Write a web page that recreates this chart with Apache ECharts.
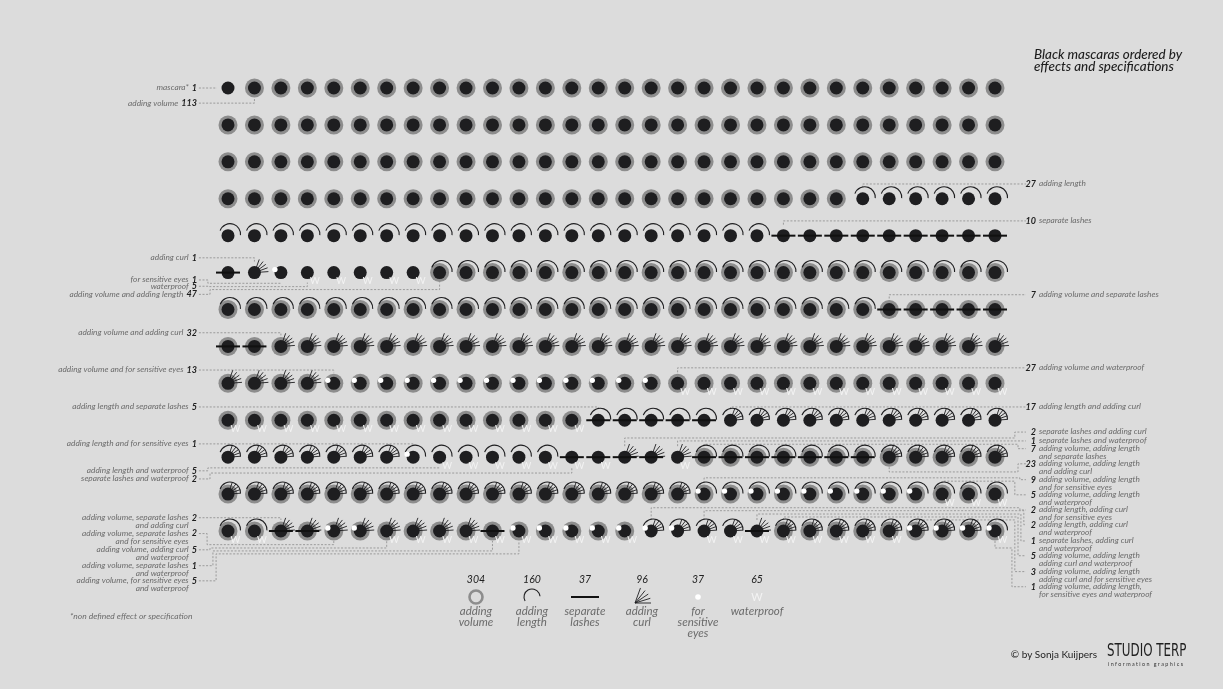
<!DOCTYPE html>
<html><head><meta charset="utf-8">
<script src="https://cdn.jsdelivr.net/npm/echarts@6/dist/echarts.min.js"></script>
<style>html,body{margin:0;padding:0;background:#dcdcdc}#c{width:1223px;height:689px}</style>
</head><body><div id="c"></div>
<script>
// ---------- data ----------
// effect codes: V adding volume, L adding length, S separate lashes, C adding curl, E for sensitive eyes, W waterproof
const groupCodes  = ['', 'V','L','S','C','E','W','VL','VS','VC','VE','VW','LS','LC','LE','LW','SW','SC','CW','VLS','VLC','VLE','VLW','VSC','VCE','VCW','VSW','VEW','LCE','LCW','SCW','VLCW','VLCE','VLEW'];
const groupCounts = [1,113,27,10,1,1,5,47,7,32,13,27,5,18,1,5,2,2,1,7,23,9,5,2,2,4,1,5,2,2,1,5,3,1];

const leftLabels = ['mascara*','adding volume','adding curl','for sensitive eyes','waterproof','adding volume and adding length','adding volume and adding curl','adding volume and for sensitive eyes','adding length and separate lashes','adding length and for sensitive eyes','adding length and waterproof','separate lashes and waterproof','adding volume, separate lashes\nand adding curl','adding volume, separate lashes\nand for sensitive eyes','adding volume, adding curl\nand waterproof','adding volume, separate lashes\nand waterproof','adding volume, for sensitive eyes\nand waterproof'];
const leftCounts = [1,113,1,1,5,47,32,13,5,1,5,2,2,2,5,1,5];
const leftGroups = [0,1,4,5,6,7,9,10,12,14,15,16,23,24,25,26,27];

const rightLabels = ['adding length','separate lashes','adding volume and separate lashes','adding volume and waterproof','adding length and adding curl','separate lashes and adding curl','separate lashes and waterproof','adding volume, adding length\nand separate lashes','adding volume, adding length\nand adding curl','adding volume, adding length\nand for sensitive eyes','adding volume, adding length\nand waterproof','adding length, adding curl\nand for sensitive eyes','adding length, adding curl\nand waterproof','separate lashes, adding curl\nand waterproof','adding volume, adding length\nadding curl and waterproof','adding volume, adding length\nadding curl and for sensitive eyes','adding volume, adding length,\nfor sensitive eyes and waterproof'];
const rightCounts = [27,10,7,27,17,2,1,7,23,9,5,2,2,1,5,3,1];
const rightGroups = [2,3,8,11,13,17,18,19,20,21,22,28,29,30,31,32,33];

const legendCodes  = ['V','L','S','C','E','W'];
const legendNames  = ['adding\nvolume','adding\nlength','separate\nlashes','adding\ncurl','for\nsensitive\neyes','waterproof'];
const legendTotals = [304,160,37,96,37,65];

// ---------- layout (annotation routing, in grid units: [labelRow, routeRow, bendCol]) ----------
const COLS = 30;
const leftLayout = [[0,null,null],[0.41,null,null],[4.6,null,null],[5.2,5.29,-0.76],[5.37,5.38,-0.72],[5.59,5.46,-0.68],
  [6.63,null,null],[7.64,null,null],[8.64,null,null],[9.64,null,null],[10.37,10.29,-0.76],[10.59,10.43,-0.68],
  [11.64,null,null],[12.07,12.37,-0.79],[12.51,12.46,-0.68],[12.94,12.54,-0.57],[13.35,12.62,-0.45]];
const rightLayout = [[2.6,null,null],[3.6,null,null],[5.6,null,null],[7.58,null,null],[8.64,null,null],
  [9.32,9.48,29.75],[9.56,null,null],[9.77,9.65,29.87],[10.18,10.4,29.87],[10.61,10.56,29.94],[11.02,10.65,29.75],
  [11.43,11.37,29.94],[11.83,11.45,30.09],[12.27,11.54,29.98],[12.67,11.62,29.87],[13.1,11.7,29.75],[13.51,12.46,29.64]];

// ---------- build items from groups ----------
const items = [];
const groupStart = [];
let k = 0;
groupCounts.forEach((n, g) => { groupStart.push(k); for (let i = 0; i < n; i++) { items.push([k % COLS, Math.floor(k / COLS), g]); k++; } });

const anns = [];
leftLabels.forEach((t, i) => anns.push({side:'L', text:t, num:leftCounts[i], g:leftGroups[i], lay:leftLayout[i]}));
rightLabels.forEach((t, i) => anns.push({side:'R', text:t, num:rightCounts[i], g:rightGroups[i], lay:rightLayout[i]}));

const DEG = Math.PI / 180;
const INK = '#1e1e20';
const HALO = '#8d8d8d';
const TXT_FONT = 'italic 8.3px Lato';
const NUM_FONT = 'italic bold 9px Lato';
const mctx = document.createElement('canvas').getContext('2d');
function tw(s, f) { mctx.font = f; return mctx.measureText(s).width; }

function glyph(code, x, y) {
  const has = c => code.indexOf(c) >= 0;
  const ch = [];
  if (has('V')) ch.push({type:'circle', shape:{cx:x, cy:y, r:9.5}, style:{fill:HALO}});
  const ox = 2, oy = -1.5, R = 10.5;
  if (has('L')) ch.push({type:'arc', shape:{cx:x+ox, cy:y+oy, r:R, startAngle:-160*DEG, endAngle:5*DEG, clockwise:true}, style:{stroke:INK, lineWidth:1.1, fill:null}});
  if (has('C')) {
    [-4,-20,-36,-52,-70].forEach(a => {
      const dx = Math.cos(a*DEG), dy = Math.sin(a*DEG);
      let r1 = 14;
      if (has('L')) { const b = dx*ox + dy*oy; r1 = b + Math.sqrt(b*b - (ox*ox+oy*oy) + R*R); }
      const r0 = 4;
      ch.push({type:'line', shape:{x1:x+dx*r0, y1:y+dy*r0, x2:x+dx*r1, y2:y+dy*r1}, style:{stroke:INK, lineWidth:0.9}});
    });
  }
  ch.push({type:'circle', shape:{cx:x, cy:y, r:6.5}, style:{fill:INK}});
  if (has('S')) ch.push({type:'line', shape:{x1:x-12, y1:y, x2:x+12, y2:y}, style:{stroke:'#111', lineWidth:2}});
  if (has('E')) ch.push({type:'circle', shape:{cx:x-6, cy:y-3, r:2.7}, style:{fill:'#ffffff'}});
  if (has('W')) ch.push({type:'text', style:{text:'W', x:x+7.5, y:y+8.5, fill:'#f3f3f3', font:'9.5px Lato', align:'center', verticalAlign:'middle'}});
  return ch;
}

function renderItem(params, api) {
  const p = api.coord([api.value(0), api.value(1)]);
  return {type:'group', children: glyph(groupCodes[api.value(2)], p[0], p[1])};
}

function renderAnn(params, api) {
  const a = anns[api.value(2)];
  const s = groupStart[a.g];
  const col = s % COLS, row = Math.floor(s / COLS);
  const d = api.coord([col, row]);
  const [ly, ry, bx] = a.lay;
  const L = api.coord([0, ly])[1];
  const ch = [];
  const dash = {stroke:'#8a8a8a', lineWidth:0.8, lineDash:[2,1.6], fill:null};
  let pts;
  if (a.side === 'L') {
    const sx = api.coord([-1.1, 0])[0];
    if (ry === null && Math.abs(L - d[1]) < 2) {
      pts = [[sx, L], [d[0]-11, L]];
    } else if (ry === null) {
      const e = L < d[1] ? d[1]-11 : d[1]+10;
      pts = [[sx, L], [d[0], L], [d[0], e]];
    } else {
      const R = api.coord([0, ry])[1];
      const B = api.coord([bx, 0])[0];
      const e = R < d[1] ? d[1]-11 : d[1]+10;
      pts = [[sx, L], [B, L], [B, R], [d[0], R], [d[0], e]];
    }
    const nw = tw(String(a.num), NUM_FONT);
    const nx = sx - 2;
    ch.push({type:'text', style:{text:String(a.num), x:nx, y:L, fill:'#1e1e1e', font:NUM_FONT, align:'right', verticalAlign:'middle'}});
    ch.push({type:'text', style:{text:a.text, x:nx-nw-3, y:L-4.3, fill:'#6b6b6b', font:TXT_FONT, align:'right', verticalAlign:'top', lineHeight:8}});
  } else {
    const ex = api.coord([30.17, 0])[0];
    if (ry === null) {
      const e = L < d[1] ? d[1]-11 : d[1]+10;
      pts = [[d[0], e], [d[0], L], [ex, L]];
    } else {
      const R = api.coord([0, ry])[1];
      const B = api.coord([bx, 0])[0];
      const e = R < d[1] ? d[1]-11 : d[1]+10;
      pts = [[d[0], e], [d[0], R], [B, R], [B, L], [ex, L]];
    }
    const nx = ex + 10;
    ch.push({type:'text', style:{text:String(a.num), x:nx, y:L, fill:'#1e1e1e', font:NUM_FONT, align:'right', verticalAlign:'middle'}});
    ch.push({type:'text', style:{text:a.text, x:nx+3, y:L-4.3, fill:'#6b6b6b', font:TXT_FONT, align:'left', verticalAlign:'top', lineHeight:8}});
  }
  ch.unshift({type:'polyline', shape:{points:pts}, style:dash});
  return {type:'group', children:ch};
}

// ---------- legend & texts ----------
const legX = [476, 532, 585, 642, 698, 757];
const graphics = [];
legendCodes.forEach((c, i) => {
  const x = legX[i], y = 597;
  graphics.push({type:'text', style:{text:String(legendTotals[i]), x:x, y:580, fill:'#222', font:'italic 10.5px Lato', align:'center', verticalAlign:'middle'}});
  graphics.push({type:'text', style:{text:legendNames[i], x:x, y:606, fill:'#6b6b6b', font:'italic 11.5px Lato', align:'center', verticalAlign:'top', lineHeight:11}});
  if (c === 'V') graphics.push({type:'circle', shape:{cx:x, cy:y, r:6.5}, style:{stroke:HALO, lineWidth:2.6, fill:null}});
  if (c === 'L') graphics.push({type:'arc', shape:{cx:x, cy:y, r:8, startAngle:150*DEG, endAngle:355*DEG, clockwise:true}, style:{stroke:INK, lineWidth:1.1, fill:null}});
  if (c === 'S') graphics.push({type:'line', shape:{x1:x-14, y1:y, x2:x+14, y2:y}, style:{stroke:'#111', lineWidth:2}});
  if (c === 'C') [0,-17,-34,-51,-70].forEach(a => graphics.push({type:'line', shape:{x1:x-7, y1:y+6, x2:x-7+16*Math.cos(a*DEG), y2:y+6+16*Math.sin(a*DEG)}, style:{stroke:INK, lineWidth:0.9}}));
  if (c === 'E') graphics.push({type:'circle', shape:{cx:x, cy:y, r:2.8}, style:{fill:'#fff'}});
  if (c === 'W') graphics.push({type:'text', style:{text:'W', x:x, y:y, fill:'#f3f3f3', font:'11px Lato', align:'center', verticalAlign:'middle'}});
});
graphics.push({type:'text', style:{text:'Black mascaras ordered by\neffects and specifications', x:1034, y:49, fill:'#1e1e1e', font:'italic 500 13.4px Lato', align:'left', verticalAlign:'top', lineHeight:12}});
graphics.push({type:'text', style:{text:'*non defined effect or specification', x:70, y:616, fill:'#6b6b6b', font:'italic 8.5px Lato', align:'left', verticalAlign:'middle'}});
graphics.push({type:'text', style:{text:'© by Sonja Kuijpers', x:1097, y:655, fill:'#1e1e1e', font:'10px Lato', align:'right', verticalAlign:'middle'}});
graphics.push({type:'text', x:1107, y:651, scaleX:0.66, style:{text:'STUDIO TERP', x:0, y:0, fill:'#1e1e1e', font:'18px "DejaVu Sans"', align:'left', verticalAlign:'middle'}});
graphics.push({type:'text', x:1108, y:664, scaleX:0.9, style:{text:'i n f o r m a t i o n   g r a p h i c s', x:0, y:0, fill:'#333', font:'6px Lato', align:'left', verticalAlign:'middle'}});

const chart = echarts.init(document.getElementById('c'));
chart.setOption({
  backgroundColor:'#dcdcdc',
  animation:false,
  grid:{left:228, top:88, width:767, height:443},
  xAxis:{type:'value', min:0, max:29, show:false},
  yAxis:{type:'value', min:0, max:12, inverse:true, show:false},
  graphic: graphics,
  series:[
    {type:'custom', renderItem:renderAnn, data:anns.map((a, i) => [0, 0, i]), silent:true, clip:false, z:1},
    {type:'custom', renderItem:renderItem, data:items, silent:true, clip:false, z:2}
  ]
});
</script></body></html>
